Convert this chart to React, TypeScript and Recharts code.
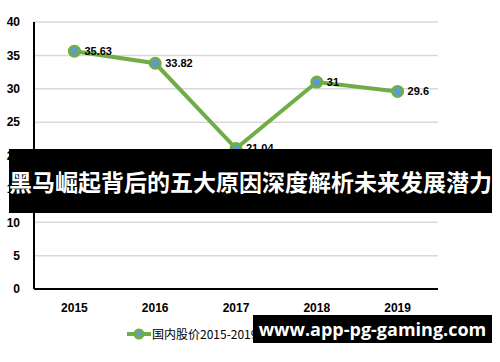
import React from 'react'
import { CartesianGrid, LabelList, Line, LineChart, XAxis, YAxis } from 'recharts'

const years = ['2015', '2016', '2017', '2018', '2019']
const prices = [35.63, 33.82, 21.04, 31, 29.6]
const yTicks = [0, 5, 10, 15, 20, 25, 30, 35, 40]
const seriesName = '国内股价2015-2019年'
const bannerTitle = '黑马崛起背后的五大原因深度解析未来发展潜力'
const siteText = 'www.app-pg-gaming.com'

const data = years.map((year, i) => ({ year, price: prices[i] }))

const GREEN = '#70ad47'
const BLUE = '#5b9bd5'
const FONT = '"Liberation Sans", Arial, sans-serif'

function LegendBox() {
  return (
    <div
      style={{
        position: 'absolute',
        left: 127,
        top: 325,
        display: 'flex',
        alignItems: 'center',
        fontFamily: '"Noto Sans CJK SC", sans-serif',
        fontSize: 12,
        color: '#000',
        whiteSpace: 'nowrap',
      }}
    >
      <svg width={24} height={12}>
        <line x1={0} y1={6} x2={24} y2={6} stroke={GREEN} strokeWidth={4} />
        <circle cx={12} cy={6} r={4} fill={BLUE} stroke={GREEN} strokeWidth={3} />
      </svg>
      <span style={{ marginLeft: 1 }}>{seriesName}</span>
    </div>
  )
}

export default function App() {
  return (
    <div style={{ position: 'absolute', left: 0, top: 0, width: 500, height: 362, background: '#fff' }}>
      <LineChart width={500} height={362} data={data} margin={{ top: 22, right: 62, bottom: 0, left: 0 }}>
        <CartesianGrid horizontal vertical={false} stroke="#d9d9d9" strokeWidth={1.5} />
        <XAxis
          dataKey="year"
          scale="band"
          height={73}
          axisLine={{ stroke: '#000', strokeWidth: 2 }}
          tickLine={false}
          tickSize={0}
          tickMargin={14}
          tick={{ fontSize: 12, fill: '#000', fontFamily: FONT, fontWeight: 600 }}
        />
        <YAxis
          domain={[0, 40]}
          ticks={yTicks}
          width={34}
          axisLine={{ stroke: '#000', strokeWidth: 2 }}
          tickLine={false}
          tickSize={0}
          tickMargin={14}
          tick={{ fontSize: 12, fill: '#000', fontFamily: FONT, fontWeight: 600 }}
        />
        <Line
          type="linear"
          dataKey="price"
          name={seriesName}
          stroke={GREEN}
          strokeWidth={4}
          dot={{ r: 5, fill: BLUE, stroke: GREEN, strokeWidth: 3 }}
          isAnimationActive={false}
        >
          <LabelList
            dataKey="price"
            position="right"
            offset={10}
            style={{ fontSize: 11, fill: '#000', fontFamily: FONT, fontWeight: 600 }}
          />
        </Line>
      </LineChart>
      <LegendBox />
      <div
        style={{
          position: 'absolute',
          left: 9,
          top: 149,
          width: 483,
          height: 64,
          background: '#000',
          color: '#fff',
          fontFamily: '"Noto Sans CJK SC", sans-serif',
          fontWeight: 700,
          fontSize: 23,
          lineHeight: '64px',
          textAlign: 'center',
          whiteSpace: 'nowrap',
          overflow: 'hidden',
        }}
      >
        {bannerTitle}
      </div>
      <div
        style={{
          position: 'absolute',
          left: 253,
          top: 315,
          width: 239,
          height: 28,
          background: '#000',
          color: '#fff',
          fontFamily: '"Open Sans", sans-serif',
          fontWeight: 700,
          fontSize: 18,
          lineHeight: '28px',
          textAlign: 'center',
          whiteSpace: 'nowrap',
        }}
      >
        {siteText}
      </div>
    </div>
  )
}
